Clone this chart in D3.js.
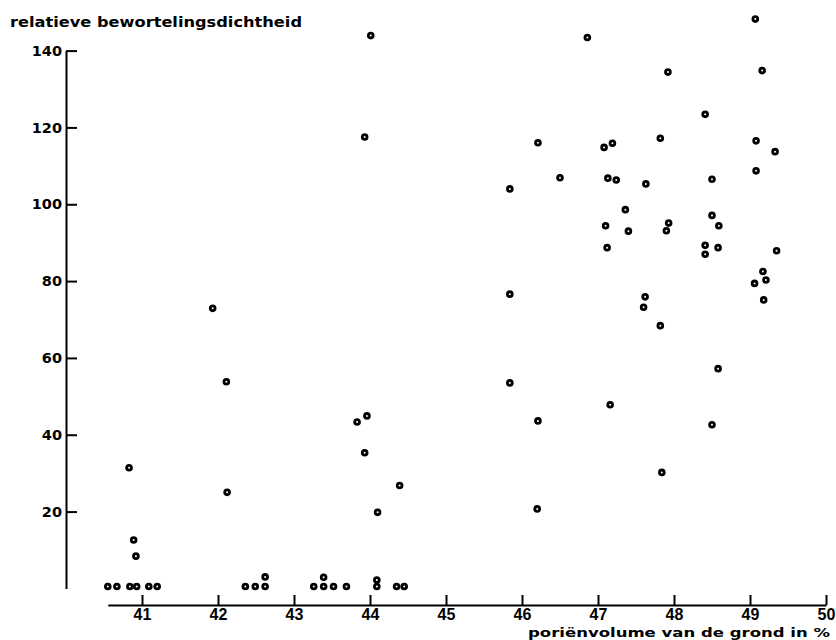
<!DOCTYPE html>
<html>
<head>
<meta charset="utf-8">
<script src="https://cdn.jsdelivr.net/npm/d3@7"></script>
<style>
  html, body { margin: 0; padding: 0; background: #fff; }
  svg { display: block; }
</style>
</head>
<body>
<script>
// Porosity (poriënvolume, %) and relative root density (relatieve bewortelingsdichtheid)
const porosity = [
  40.55, 40.67, 40.84, 40.93, 41.09, 41.20, 40.83, 40.89, 40.92,
  41.93, 42.11, 42.12, 42.36, 42.49, 42.62, 42.62,
  43.26, 43.39, 43.39, 43.52, 43.69, 44.09, 44.09, 44.35, 44.45,
  44.01, 43.93, 43.96, 43.83, 43.93, 44.39, 44.10,
  45.84, 45.84, 45.84, 46.21, 46.21, 46.20, 46.50, 46.86,
  47.08, 47.19, 47.13, 47.24, 47.10, 47.40, 47.36, 47.12, 47.16, 47.63,
  47.62, 47.60, 47.82, 47.84, 47.82, 47.92, 47.93, 47.90,
  48.41, 48.50, 48.50, 48.59, 48.41, 48.58, 48.41, 48.58, 48.50,
  49.07, 49.16, 49.08, 49.33, 49.08, 49.35, 49.17, 49.21, 49.06, 49.18
];
const rootDensity = [
  0.5, 0.5, 0.5, 0.5, 0.5, 0.5, 31.4, 12.6, 8.4,
  72.9, 53.8, 25.0, 0.5, 0.5, 0.5, 3.0,
  0.5, 0.5, 2.9, 0.5, 0.5, 0.5, 2.2, 0.5, 0.5,
  143.9, 117.5, 44.9, 43.3, 35.3, 26.8, 19.8,
  104.0, 76.6, 53.5, 116.0, 43.6, 20.7, 106.9, 143.4,
  114.8, 115.9, 106.8, 106.3, 94.4, 93.0, 98.6, 88.7, 47.8, 105.3,
  75.9, 73.2, 117.2, 30.2, 68.4, 134.4, 95.1, 93.1,
  123.4, 106.5, 97.1, 94.4, 89.3, 88.7, 87.0, 57.2, 42.6,
  148.2, 134.8, 116.5, 113.7, 108.7, 87.9, 82.5, 80.3, 79.4, 75.1
];
const xTicks = [41, 42, 43, 44, 45, 46, 47, 48, 49, 50];
const yTicks = [20, 40, 60, 80, 100, 120, 140];
const yTitle = "relatieve bewortelingsdichtheid";
const xTitle = "poriënvolume van de grond in %";

const W = 836, H = 640;
const svg = d3.select("body").append("svg").attr("width", W).attr("height", H);

const x = d3.scaleLinear().domain([40.55, 50]).range([107.8, 826]);
const y = d3.scaleLinear().domain([0, 140]).range([588.4, 50.6]);

// Y axis (ticks pointing inward, labels on the left)
const gy = svg.append("g").attr("transform", "translate(66,0)")
  .call(d3.axisLeft(y).tickValues(yTicks).tickSizeInner(-11).tickSizeOuter(0).tickPadding(4));
gy.select(".domain").attr("stroke", "#000").attr("stroke-width", 2);
gy.selectAll(".tick line").attr("stroke", "#000").attr("stroke-width", 2);
gy.selectAll(".tick text")
  .attr("font-family", "'DejaVu Sans', sans-serif")
  .attr("font-weight", "bold")
  .attr("font-size", 14.5)
  .attr("fill", "#000");

// X axis (ticks pointing up, labels below)
const gx = svg.append("g").attr("transform", "translate(0,605)")
  .call(d3.axisBottom(x).tickValues(xTicks).tickSizeInner(-10).tickSizeOuter(0).tickPadding(4));
gx.select(".domain").attr("stroke", "#000").attr("stroke-width", 2);
gx.selectAll(".tick line").attr("stroke", "#000").attr("stroke-width", 2);
gx.selectAll(".tick text")
  .attr("font-family", "'Liberation Sans', Arial, sans-serif")
  .attr("font-weight", "bold")
  .attr("font-size", 16)
  .attr("fill", "#000");

// Titles
svg.append("text")
  .attr("x", 10).attr("y", 26.5)
  .attr("font-family", "'DejaVu Sans', sans-serif")
  .attr("font-weight", "bold")
  .attr("font-size", 14)
  .attr("textLength", 292).attr("lengthAdjust", "spacingAndGlyphs")
  .attr("fill", "#000")
  .text(yTitle);

svg.append("text")
  .attr("x", 528).attr("y", 636.5)
  .attr("font-family", "'DejaVu Sans', sans-serif")
  .attr("font-weight", "bold")
  .attr("font-size", 12.5)
  .attr("textLength", 302).attr("lengthAdjust", "spacingAndGlyphs")
  .attr("fill", "#000")
  .text(xTitle);

// Points
const pts = porosity.map((p, i) => ({ p, v: rootDensity[i] }));
svg.append("g").selectAll("circle")
  .data(pts).enter().append("circle")
  .attr("cx", d => x(d.p))
  .attr("cy", d => y(d.v))
  .attr("r", 2.4)
  .attr("fill", "#fff")
  .attr("stroke", "#000")
  .attr("stroke-width", 2.8);
</script>
</body>
</html>
